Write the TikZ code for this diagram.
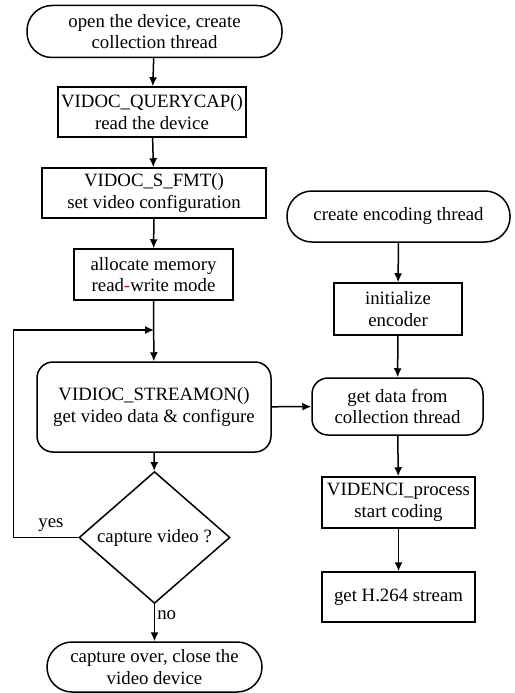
\documentclass[tikz,border=0pt]{standalone}
\usepackage{fontspec}
\setmainfont{Liberation Serif}
\usetikzlibrary{arrows.meta,shapes.geometric}

\begin{document}
\begin{tikzpicture}[>=Latex, x=1pt, y=-1pt, line width=1.5pt,
  every node/.style={font=\fontsize{18.8pt}{21.5pt}\selectfont, align=center, inner sep=0pt},
  startstop/.style={draw, rectangle, rounded corners=25pt},
  process/.style={draw, rectangle},
  roundproc/.style={draw, rectangle, rounded corners=16pt},
  decision/.style={draw, diamond, minimum width=151pt, minimum height=113pt},
  flow/.style={->, arrows={-Latex[length=9pt,width=8pt]}}]
  \useasboundingbox (0,0) rectangle (514,693);
  % capture thread
  \node[startstop, minimum width=255pt, minimum height=52pt] (open) at (154.5,31.5) {open the device, create\\collection thread};
  \node[process, minimum width=188pt, minimum height=50pt] (query) at (152,112) {VIDOC\_QUERYCAP()\\read the device};
  \node[process, minimum width=224pt, minimum height=50pt] (fmt) at (154,193) {VIDOC\_S\_FMT()\\set video configuration};
  \node[process, minimum width=159pt, minimum height=51pt] (alloc) at (153.5,274.5) {allocate memory\\read{\color{red}-}write mode};
  \node[roundproc, minimum width=234pt, minimum height=90pt] (stream) at (154,407) {VIDIOC\_STREAMON()\\get video data \& configure};
  \node[decision] (capture) at (154.5,537.5) {capture video ?};
  \node[startstop, minimum width=215pt, minimum height=50pt] (close) at (154.5,667) {capture over, close the\\video device};
  \coordinate (join) at (154,330);
  % encoding thread
  \node[startstop, minimum width=223pt, minimum height=51pt] (enc) at (398.5,216.5) {create encoding thread};
  \node[process, minimum width=128pt, minimum height=52pt] (init) at (398,309) {initialize\\encoder};
  \node[roundproc, minimum width=171pt, minimum height=57pt] (getdata) at (397.5,406.5) {get data from\\collection thread};
  \node[process, minimum width=153pt, minimum height=51pt] (venc) at (398.5,502.5) {VIDENCI\_process\\start coding};
  \node[process, minimum width=153pt, minimum height=50pt] (h264) at (398.5,597) {get H.264 stream};

  \draw[flow] (open) -- (query);
  \draw[flow] (query) -- (fmt);
  \draw[flow] (fmt) -- (alloc);
  \draw[flow] (alloc) -- (stream);
  \draw[flow] (stream) -- (capture);
  \draw[flow] (capture) -- node[right, pos=0.3, xshift=2pt] {no} (close);
  \draw[flow] (capture.west) -- node[above, pos=0.42, yshift=5pt] {yes} ++(-65,0) |- (join);
  \draw[flow] (stream) -- (getdata);
  \draw[flow] (enc) -- (init);
  \draw[flow] (init) -- (getdata);
  \draw[flow] (getdata) -- (venc);
  \draw[flow] (venc) -- (h264);
\end{tikzpicture}
\end{document}
